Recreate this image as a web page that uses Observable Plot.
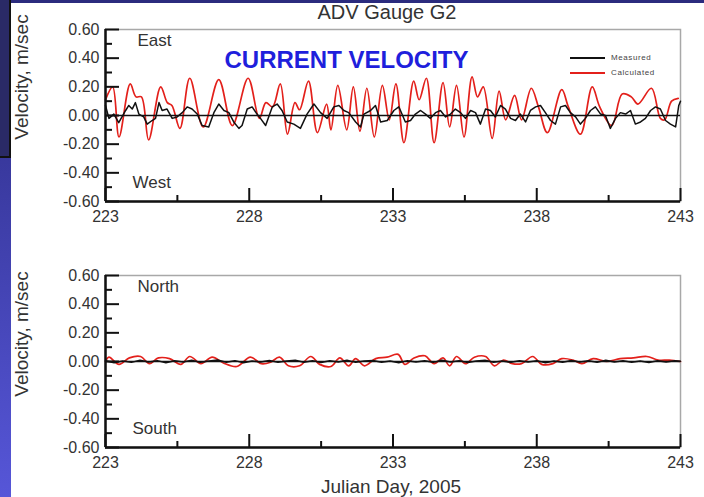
<!DOCTYPE html>
<html>
<head>
<meta charset="utf-8">
<script src="https://cdn.jsdelivr.net/npm/d3@7"></script>
<script src="https://cdn.jsdelivr.net/npm/@observablehq/plot@0.6"></script>
<style>
  body { margin: 0; background: #fff; }
  #root { position: relative; width: 704px; height: 497px; background: #fff; overflow: hidden;
          font-family: "Liberation Sans", Arial, sans-serif; color: #333; }
  .abs { position: absolute; white-space: nowrap; }
</style>
</head>
<body>
<div id="root">
  <div class="abs" style="left:0;top:0;width:11px;height:497px;background:linear-gradient(#2b2b82,#5656d8);"></div>
  <div class="abs" style="left:0;top:0;width:704px;height:3px;background:#2b2b7e;"></div>
  <div class="abs" style="left:0;top:0;width:9px;height:156px;background:#2a2a66;border-right:2px solid #111;border-bottom:2px solid #111;"></div>
  <div class="abs" id="title" style="left:387px;top:1px;transform:translateX(-50%);font-size:20px;color:#333;">ADV Gauge G2</div>
  <div class="abs" style="left:22px;top:77px;transform:translate(-50%,-50%) rotate(-90deg);font-size:19px;color:#333;">Velocity, m/sec</div>
  <div class="abs" style="left:22px;top:334px;transform:translate(-50%,-50%) rotate(-90deg);font-size:19px;color:#333;">Velocity, m/sec</div>
  <div class="abs" style="left:391px;top:476px;transform:translateX(-50%);font-size:19px;color:#333;">Julian Day, 2005</div>
  <div id="top" class="abs" style="left:0;top:0;"></div>
  <div id="bottom" class="abs" style="left:0;top:246px;"></div>
  <div class="abs" id="legend" style="left:570px;top:50px;font-size:8px;color:#444;letter-spacing:0.6px;">
    <div style="display:flex;align-items:center;height:15px;"><span style="display:inline-block;width:35px;height:2px;background:#111;margin-right:6px;"></span>Measured</div>
    <div style="display:flex;align-items:center;height:15px;"><span style="display:inline-block;width:35px;height:2px;background:#e3201b;margin-right:6px;"></span>Calculated</div>
  </div>
</div>
<script>
// ---- axis ticks ----
const xMajor = [223, 228, 233, 238, 243];
const xMinor = [225.5, 230.5, 235.5, 240.5];
const yMajor = [-0.6, -0.4, -0.2, 0, 0.2, 0.4, 0.6];
const yMinor = [-0.5, -0.3, -0.1, 0.1, 0.3, 0.5];

// ---- East/West component (top panel) ----
const calculatedEW = [
  [223.00,0.11],[223.25,0.20],[223.47,-0.15],[223.86,0.22],[224.06,0.13],[224.25,0.13],[224.50,-0.17],
  [224.92,0.20],[225.15,0.09],[225.31,0.07],[225.59,-0.09],[225.93,0.26],[226.40,-0.08],[226.94,0.25],
  [227.41,-0.07],[227.96,0.26],[228.35,-0.02],[228.58,0.09],[228.81,0.06],[229.08,0.22],[229.33,-0.13],
  [229.59,0.09],[229.75,0.04],[230.06,0.24],[230.37,-0.12],[230.69,0.08],[230.84,-0.10],[231.08,0.21],
  [231.39,-0.10],[231.62,0.20],[231.85,-0.11],[232.09,0.19],[232.35,-0.15],[232.63,0.21],[232.87,-0.03],
  [233.10,0.22],[233.38,-0.19],[233.72,0.24],[233.91,0.11],[234.16,0.26],[234.43,-0.19],[234.74,0.23],
  [234.97,-0.08],[235.21,0.21],[235.47,-0.15],[235.75,0.27],[235.94,0.13],[236.14,0.20],[236.45,-0.16],
  [236.69,0.17],[236.92,-0.03],[237.23,0.14],[237.47,-0.03],[237.81,0.19],[238.06,0.06],[238.37,-0.12],
  [238.87,0.18],[239.10,0.06],[239.52,-0.13],[239.93,0.20],[240.19,0.06],[240.61,-0.07],[240.97,0.15],
  [241.29,0.13],[241.52,0.08],[241.99,0.19],[242.30,-0.02],[242.45,-0.03],[242.69,0.10],[242.92,0.12]
];
const measuredEW = [
  [223.00,0.07],[223.12,-0.02],[223.29,0.01],[223.46,-0.05],[223.70,0.035],[223.81,0.07],[223.93,0.045],
  [224.04,0.09],[224.16,0.01],[224.33,-0.01],[224.45,-0.06],[224.62,-0.035],[224.74,-0.02],[224.86,0.09],
  [224.97,0.035],[225.14,0.045],[225.32,-0.02],[225.49,-0.01],[225.67,0.02],[225.84,0.06],[226.01,0.045],
  [226.19,0.01],[226.36,-0.07],[226.59,-0.08],[226.77,0.02],[226.94,0.08],[227.12,0.035],[227.29,0.02],
  [227.46,-0.045],[227.64,-0.09],[227.75,-0.07],[227.93,0.045],[228.10,0.06],[228.27,0.01],[228.39,-0.02],
  [228.57,-0.07],[228.80,0.06],[228.97,0.08],[229.14,0.035],[229.32,-0.045],[229.55,-0.06],[229.78,-0.09],
  [230.01,0.01],[230.25,0.08],[230.48,0.02],[230.71,-0.02],[230.94,0.06],[231.12,0.07],[231.29,0.035],
  [231.46,0.02],[231.70,-0.045],[231.87,-0.08],[231.99,0.01],[232.22,0.035],[232.39,0.07],[232.57,-0.045],
  [232.80,-0.035],[233.03,0.035],[233.20,0.06],
  [233.26,0.035],[233.43,-0.045],[233.61,-0.035],[233.78,0.01],[233.96,0.035],[234.13,0.01],[234.30,-0.02],
  [234.48,0.02],[234.65,0.035],[234.83,-0.01],[235.00,0.01],[235.17,0.045],[235.35,0.02],[235.52,-0.02],
  [235.70,0.035],[235.87,0.02],[236.04,-0.06],[236.22,0.045],[236.39,0.035],[236.56,-0.01],[236.74,0.07],
  [236.91,0.045],[237.09,-0.02],[237.26,-0.035],[237.43,0.01],[237.61,-0.045],[237.78,0.035],[237.96,0.06],
  [238.13,0.07],[238.30,0.02],[238.48,-0.035],[238.65,-0.06],[238.83,0.06],[239.00,0.07],[239.17,0.02],
  [239.35,-0.01],[239.52,-0.06],[239.69,-0.02],[239.87,0.035],[240.04,0.06],[240.22,0.01],[240.39,0.0],
  [240.56,-0.09],[240.74,-0.02],[240.91,0.02],[241.09,0.01],[241.26,0.035],[241.43,-0.06],[241.61,-0.045],
  [241.78,-0.02],[241.96,0.035],[242.13,0.06],[242.30,0.045],[242.48,-0.035],[242.65,-0.06],[242.83,-0.08],
  [242.94,0.07],[243.00,0.10]
];

// ---- North/South component (bottom panel) ----
const calculatedNS = [
  [223.00,0.00],[223.12,0.03],[223.47,-0.02],[223.83,0.025],[224.22,0.035],[224.53,-0.015],[224.84,0.025],
  [225.23,0.02],[225.62,-0.02],[225.93,0.035],[226.32,-0.015],[226.71,0.03],[227.10,-0.01],[227.57,-0.035],
  [228.04,0.03],[228.42,-0.015],[228.74,-0.005],[229.05,0.03],[229.36,-0.03],[229.75,-0.03],[230.14,0.035],
  [230.45,-0.02],[230.84,-0.035],[231.15,0.025],[231.46,-0.03],[231.70,0.02],[232.01,-0.03],[232.40,0.02],
  [232.79,0.03],[233.18,0.05],[233.41,-0.02],[233.73,0.025],[234.11,0.04],[234.43,-0.015],[234.74,0.025],
  [234.97,-0.03],[235.21,0.035],[235.52,-0.015],[235.83,0.03],[236.22,0.035],[236.53,-0.03],[236.84,0.01],
  [237.15,-0.015],[237.47,-0.015],[237.86,0.035],[238.17,-0.02],[238.56,-0.015],[238.87,0.02],[239.26,0.01],
  [239.57,-0.015],[239.96,0.02],[240.43,0.0],[240.90,0.02],[241.36,0.025],[241.83,0.035],[242.22,0.01],
  [242.61,0.01],[243.00,0.0]
];
const measuredNS = [
  [223.0,0.005],[223.3,-0.008],[223.6,0.004],[223.9,-0.006],[224.2,0.008],[224.5,-0.004],[224.8,0.006],
  [225.1,-0.008],[225.4,0.005],[225.7,-0.003],[226.0,0.008],[226.3,-0.006],[226.6,0.004],[226.9,0.01],
  [227.2,-0.005],[227.5,0.006],[227.8,-0.008],[228.1,0.004],[228.4,-0.004],[228.7,0.007],[229.0,-0.006],
  [229.3,0.003],[229.6,0.008],[229.9,-0.005],[230.2,0.006],[230.5,-0.007],[230.8,0.005],[231.1,-0.004],
  [231.4,0.008],[231.7,-0.006],[232.0,0.004],[232.3,0.007],[232.6,-0.005],[232.9,0.003],[233.2,-0.008],
  [233.5,0.006],[233.8,-0.004],[234.1,0.005],[234.4,-0.006],[234.7,0.009],[235.0,-0.004],[235.3,0.006],
  [235.6,-0.007],[235.9,0.004],[236.2,0.008],[236.5,-0.005],[236.8,0.004],[237.1,-0.006],[237.4,0.005],
  [237.7,-0.004],[238.0,0.006],[238.3,-0.008],[238.6,0.004],[238.9,-0.005],[239.2,0.007],[239.5,-0.004],
  [239.8,0.005],[240.1,-0.006],[240.4,0.008],[240.7,-0.004],[241.0,0.006],[241.3,-0.005],[241.6,0.004],
  [241.9,-0.007],[242.2,0.005],[242.5,-0.004],[242.8,0.006],[243.0,0.002]
];

const fmt = d => d.toFixed(2);

function panel(measured, calculated, labels) {
  return Plot.plot({
    width: 704, height: 225,
    marginLeft: 105, marginRight: 24, marginTop: 29, marginBottom: 24,
    style: { fontFamily: "'Liberation Sans', Arial, sans-serif", fontSize: "16px", color: "#333", background: "transparent", overflow: "visible" },
    x: { domain: [223, 243], axis: null },
    y: { domain: [-0.6, 0.6], axis: null },
    marks: [
      Plot.frame({ stroke: "#a8a8a8", strokeWidth: 1.5 }),
      Plot.line(calculated, { x: d => d[0], y: d => d[1], stroke: "#e3201b", strokeWidth: 1.7, curve: "catmull-rom" }),
      Plot.line(measured, { x: d => d[0], y: d => d[1], stroke: "#111", strokeWidth: 1.5 }),
      Plot.ruleY([0], { stroke: "#111", strokeWidth: 1.6 }),
      Plot.tickY(yMajor, { y: d => d, insetRight: 561, stroke: "#111", strokeWidth: 2 }),
      Plot.tickY(yMinor, { y: d => d, insetRight: 568, stroke: "#111", strokeWidth: 2 }),
      Plot.tickX(xMajor, { x: d => d, insetTop: 159, stroke: "#111", strokeWidth: 2 }),
      Plot.tickX(xMinor, { x: d => d, insetTop: 166, stroke: "#111", strokeWidth: 2 }),
      Plot.ruleX([223], { stroke: "#111", strokeWidth: 2.5 }),
      Plot.ruleY([-0.6], { stroke: "#111", strokeWidth: 2.5 }),
      Plot.axisY({ ticks: yMajor, tickSize: 0, tickPadding: 6, tickFormat: fmt, fontSize: 16, fill: "#333" }),
      Plot.axisX({ ticks: xMajor, tickSize: 0, tickPadding: 9, tickFormat: d => String(d), fontSize: 16, fill: "#333" }),
      Plot.text([labels[0]], { frameAnchor: "top-left", dx: 32, dy: 4, textAnchor: "start", fontSize: 17, fill: "#333" }),
      Plot.text([labels[1]], { frameAnchor: "bottom-left", dx: 27, dy: -14, textAnchor: "start", fontSize: 17, fill: "#333" }),
      ...(labels[2] ? [Plot.text([labels[2]], { frameAnchor: "top-left", dx: 241, dy: 21, textAnchor: "middle", fontSize: 24, fontWeight: "bold", fill: "#1f1fdc" })] : [])
    ]
  });
}

document.getElementById("top").appendChild(panel(measuredEW, calculatedEW, ["East", "West", "CURRENT VELOCITY"]));
document.getElementById("bottom").appendChild(panel(measuredNS, calculatedNS, ["North", "South"]));
</script>
</body>
</html>
